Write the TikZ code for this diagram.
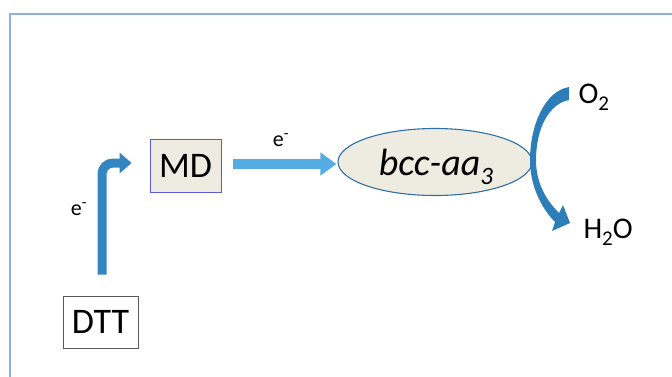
\documentclass[tikz,border=0pt]{standalone}
\usepackage{fontspec}
\setmainfont{Carlito}
\usetikzlibrary{arrows.meta,shapes.geometric,calc}
\definecolor{frameblue}{HTML}{8DB3DB}
\definecolor{beige}{HTML}{EEECE1}
\definecolor{mdborder}{HTML}{5A5ADC}
\definecolor{arrowdark}{HTML}{3386C0}
\definecolor{arrowlight}{HTML}{55ACE2}
\definecolor{ellborder}{HTML}{2F6FA3}
\definecolor{curvecol}{HTML}{2C7DB8}
\tikzset{
  bigtext/.style={font=\fontsize{36}{40}\selectfont, text=black},
  medtext/.style={font=\fontsize{30}{33}\selectfont, text=black},
  smalltext/.style={font=\fontsize{22}{24}\selectfont, text=black},
  boxnode/.style={draw, line width=0.8pt, minimum height=53pt, inner sep=0pt},
}
\begin{document}
\begin{tikzpicture}[x=1pt,y=-1pt]
\useasboundingbox (0,0) rectangle (672,376);
\draw[frameblue, line width=1.6pt] (10,14) rectangle (700,400);
% nodes
\node[boxnode, bigtext, draw=mdborder, fill=beige, minimum width=71pt] (md) at (185.5,166) {MD};
\node[boxnode, bigtext, draw=gray!70!black, fill=white, minimum width=75pt, minimum height=52pt] (dtt) at (100.5,322) {DTT};
\node[ellipse, draw=ellborder, line width=1.1pt, fill=beige, minimum width=194pt, minimum height=67pt, inner sep=0pt] (bcc) at (435,162) {};
\node[font=\fontsize{38}{40}\selectfont\itshape, text=black, anchor=base] (bcctext) at (436,175) {bcc-aa\raisebox{-9pt}{\fontsize{25}{27}\selectfont 3}};
\node[medtext, anchor=base west] (o2) at (575,103) {O\raisebox{-7pt}{\fontsize{21}{23}\selectfont 2}};
\node[medtext, anchor=base west] (h2o) at (580,238) {H\raisebox{-7pt}{\fontsize{21}{23}\selectfont 2}O};
\node[smalltext] (e1) at (79,209) {e\textsuperscript{-}};
\node[smalltext] (e2) at (281,140) {e\textsuperscript{-}};
% connectors
\draw[arrowdark, line width=9pt, rounded corners=11pt,
      -{Triangle[width=20pt,length=12pt]}, shorten <=21pt, shorten >=18pt]
  ([xshift=1.5pt]dtt.north) |- ([yshift=3pt]md.west);
\draw[arrowlight, line width=10pt, -{Triangle[width=22pt,length=16pt]},
      shorten <=12pt, shorten >=1pt]
  ([yshift=2pt]md.east) -- ([yshift=-2pt]bcc.west);
% curved tapered arrow from O2 to H2O
\fill[curvecol] (569,87) .. controls (545,91) and (530,125) .. (530,160)
  .. controls (530,190) and (545,212) .. (555,222)
  -- (552,231) -- (570,223) -- (563,205) -- (559,213)
  .. controls (548,202) and (536,185) .. (536,160)
  .. controls (536,130) and (548,104) .. (569,100) -- cycle;
\end{tikzpicture}
\end{document}
